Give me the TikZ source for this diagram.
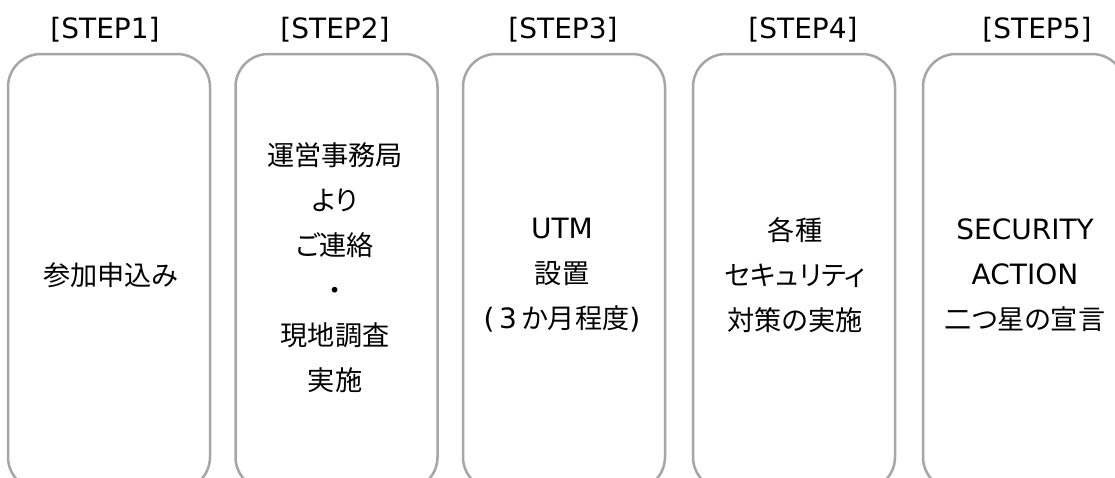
\documentclass[tikz,border=0pt]{standalone}
\usepackage{fontspec}
\setmainfont{DejaVu Sans}
\newfontfamily\jp[RawFeature=+palt,Scale=0.97]{Noto Sans CJK JP}
\definecolor{boxgray}{HTML}{A6A6A6}
\begin{document}
\begin{tikzpicture}[x=1pt,y=-1pt,
  stepbox/.style={draw=boxgray,line width=2.5pt,rounded corners=33pt,minimum width=202pt,minimum height=436pt,inner sep=0pt},
  steplabel/.style={font=\fontsize{28}{32}\selectfont,inner sep=0pt},
  body/.style={font=\fontsize{28}{45}\selectfont,align=center,inner sep=0pt}]
\useasboundingbox (0,0) rectangle (1115,477);
\clip (0,0) rectangle (1115,477);
\fill[white] (0,0) rectangle (1115,477);
\node[stepbox] (b1) at (109,272) {};
\node[stepbox] (b2) at (336.5,272) {};
\node[stepbox] (b3) at (564,272) {};
\node[stepbox] (b4) at (794,272) {};
\node[stepbox] (b5) at (1024,272) {};
\node[steplabel] (s1) at (105,30) {[STEP1]};
\node[steplabel] (s2) at (335,30) {[STEP2]};
\node[steplabel] (s3) at (563,30) {[STEP3]};
\node[steplabel] (s4) at (803,30) {[STEP4]};
\node[steplabel] (s5) at (1037,30) {[STEP5]};
\node[body] (t1) at (111,275) {\jp 参加申込み};
\node[body] (t2) at (335,268) {\jp 運営事務局\\\jp より\\\jp ご連絡\\\jp ・\\\jp 現地調査\\\jp 実施};
\node[body] (t3) at (562,275) {UTM\\{\jp 設置}\\(\,3\,{\jp か月程度})};
\node[body] (t4) at (795,275) {\jp 各種\\\jp セキュリティ\\\jp 対策の実施};
\node[body] (t5) at (1025,275) {SECURITY\\ACTION\\{\jp 二つ星の宣言}};
\end{tikzpicture}
\end{document}
